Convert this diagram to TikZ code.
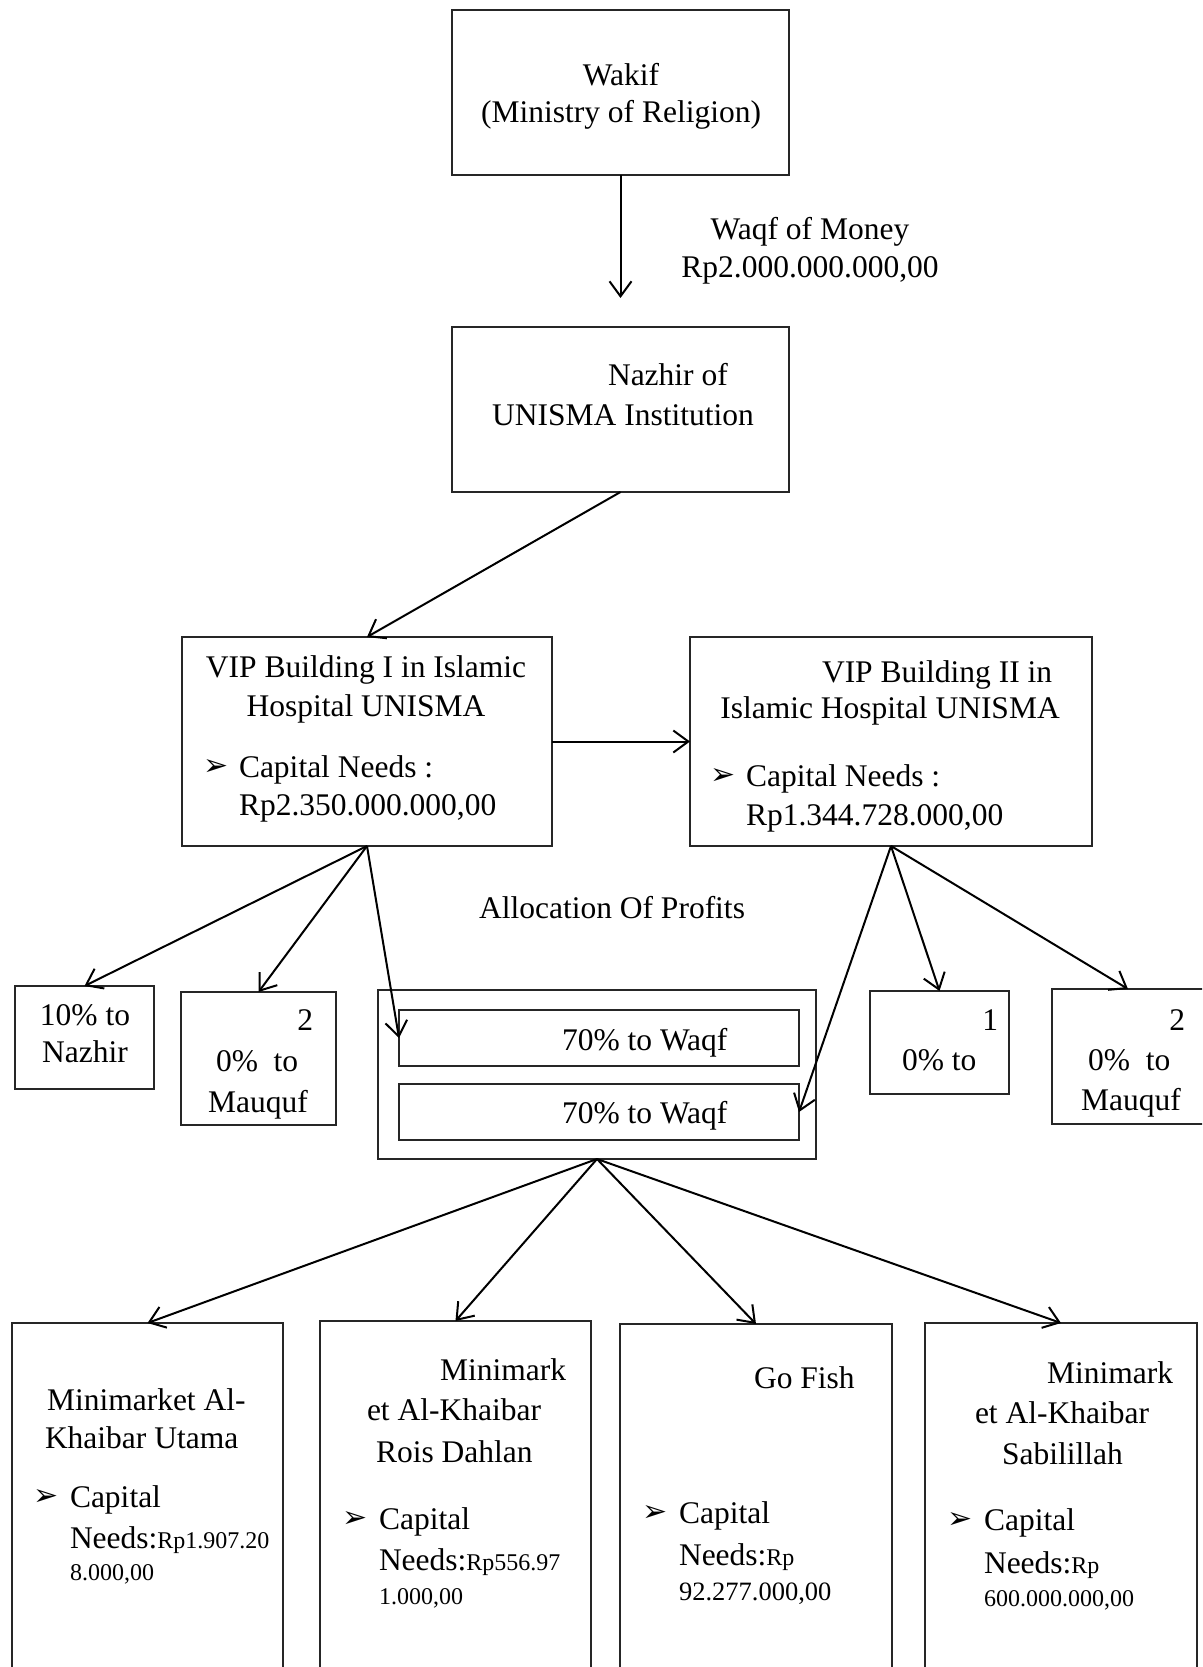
\documentclass[tikz,border=0pt]{standalone}
\usepackage{fontspec}
\setmainfont{Liberation Serif}
\newfontfamily\bulletfont{DejaVu Sans}
\usetikzlibrary{arrows.meta}
\newcommand\mainsz{\fontsize{31.5}{37}\selectfont}
\newcommand\smsz{\fontsize{24}{28}\selectfont}
\newcommand\gfsz{\fontsize{26.5}{30}\selectfont}
\newcommand\bulsz{\bulletfont\fontsize{30}{30}\selectfont}
\tikzset{
  box/.style={draw=black!85, line width=1.3pt, inner sep=0pt, outer sep=0pt},
  arr/.style={draw=black, line width=2pt, -{Straight Barb[length=15pt,width=22pt]}},
  tx/.style={inner sep=0pt, outer sep=0pt, font=\mainsz},
  bl/.style={inner sep=0pt, outer sep=0pt, font=\bulsz},
}
\begin{document}
\begin{tikzpicture}[x=1pt,y=-1pt]
\useasboundingbox (0,0) rectangle (1202,1667);
\clip (0,0) rectangle (1202,1667);

% boxes
\node[box, minimum width=337pt, minimum height=165pt] (wakif) at (620.5,92.5) {};
\node[box, minimum width=337pt, minimum height=165pt] (nazhir) at (620.5,409.5) {};
\node[box, minimum width=370pt, minimum height=209pt] (vip1) at (367,741.5) {};
\node[box, minimum width=402pt, minimum height=209pt] (vip2) at (891,741.5) {};
\node[box, minimum width=139pt, minimum height=103pt] (l10) at (84.5,1037.5) {};
\node[box, minimum width=155pt, minimum height=133pt] (l20) at (258.5,1058.5) {};
\node[box, minimum width=438pt, minimum height=169pt] (outer) at (597,1074.5) {};
\node[box, minimum width=400pt, minimum height=56pt] (in1) at (599,1038) {};
\node[box, minimum width=400pt, minimum height=56pt] (in2) at (599,1112) {};
\node[box, minimum width=139pt, minimum height=103pt] (r10) at (939.5,1042.5) {};
\node[box, minimum width=152pt, minimum height=135pt] (r20) at (1128,1056.5) {};
\node[box, minimum width=271pt, minimum height=367pt] (b1) at (147.5,1506.5) {};
\node[box, minimum width=271pt, minimum height=369pt] (b2) at (455.5,1505.5) {};
\node[box, minimum width=272pt, minimum height=366pt] (b3) at (756,1507) {};
\node[box, minimum width=272pt, minimum height=367pt] (b4) at (1061,1506.5) {};

% texts
\node[tx, anchor=base] (wakA) at (621,86) {Wakif};
\node[tx, anchor=base] (wakB) at (621,123) {(Ministry of Religion)};
\node[tx, anchor=base] (money1) at (810,239) {Waqf of Money};
\node[tx, anchor=base] (money2) at (810,277) {Rp2.000.000.000,00};
\node[tx, anchor=base west] (nazA) at (608,385) {Nazhir of};
\node[tx, anchor=base] (nazB) at (623,425) {UNISMA Institution};

\node[tx, anchor=base] (v1a) at (366,677) {VIP Building I in Islamic};
\node[tx, anchor=base] (v1b) at (366,716) {Hospital UNISMA};
\node[bl, anchor=base west] (v1bul) at (203,775) {➢};
\node[tx, anchor=base west] (v1c) at (239,777) {Capital Needs :};
\node[tx, anchor=base west] (v1d) at (239,815) {Rp2.350.000.000,00};

\node[tx, anchor=base west] (v2a) at (822,682) {VIP Building II in};
\node[tx, anchor=base] (v2b) at (890,718) {Islamic Hospital UNISMA};
\node[bl, anchor=base west] (v2bul) at (710,784) {➢};
\node[tx, anchor=base west] (v2c) at (746,786) {Capital Needs :};
\node[tx, anchor=base west] (v2d) at (746,825) {Rp1.344.728.000,00};

\node[tx, anchor=base] (alloc) at (612,918) {Allocation Of Profits};

\node[tx, anchor=base] (l10a) at (85,1025) {10\% to};
\node[tx, anchor=base] (l10b) at (85,1062) {Nazhir};
\node[tx, anchor=base east] (l20a) at (313,1030) {2};
\node[tx, anchor=base west] (l20b) at (216,1071) {0\%\ \ to};
\node[tx, anchor=base] (l20c) at (258,1112) {Mauquf};

\node[tx, anchor=base west] (w1) at (562,1050) {70\% to Waqf};
\node[tx, anchor=base west] (w2) at (562,1123) {70\% to Waqf};

\node[tx, anchor=base east] (r10a) at (998,1030) {1};
\node[tx, anchor=base west] (r10b) at (902,1070) {0\% to};
\node[tx, anchor=base east] (r20a) at (1185,1030) {2};
\node[tx, anchor=base west] (r20b) at (1088,1070) {0\%\ \ to};
\node[tx, anchor=base] (r20c) at (1131,1110) {Mauquf};

\node[tx, anchor=base west] (b1a) at (47,1410) {Minimarket Al-};
\node[tx, anchor=base west] (b1b) at (45,1448) {Khaibar Utama};
\node[bl, anchor=base west] (b1bul) at (33,1505) {➢};
\node[tx, anchor=base west] (b1c) at (70,1507) {Capital};
\node[tx, anchor=base west] (b1d) at (70,1548) {Needs:{\smsz Rp1.907.20}};
\node[tx, anchor=base west] (b1e) at (70,1580) {\smsz 8.000,00};

\node[tx, anchor=base west] (b2a) at (440,1380) {Minimark};
\node[tx, anchor=base west] (b2b) at (367,1420) {et Al-Khaibar};
\node[tx, anchor=base west] (b2c) at (376,1462) {Rois Dahlan};
\node[bl, anchor=base west] (b2bul) at (342,1527) {➢};
\node[tx, anchor=base west] (b2d) at (379,1529) {Capital};
\node[tx, anchor=base west] (b2e) at (379,1570) {Needs:{\smsz Rp556.97}};
\node[tx, anchor=base west] (b2f) at (379,1604) {\smsz 1.000,00};

\node[tx, anchor=base west] (b3a) at (754,1388) {Go Fish};
\node[bl, anchor=base west] (b3bul) at (642,1521) {➢};
\node[tx, anchor=base west] (b3b) at (679,1523) {Capital};
\node[tx, anchor=base west] (b3c) at (679,1565) {Needs:{\smsz Rp}};
\node[tx, anchor=base west] (b3d) at (679,1600) {\gfsz 92.277.000,00};

\node[tx, anchor=base west] (b4a) at (1047,1383) {Minimark};
\node[tx, anchor=base west] (b4b) at (975,1423) {et Al-Khaibar};
\node[tx, anchor=base west] (b4c) at (1002,1464) {Sabilillah};
\node[bl, anchor=base west] (b4bul) at (947,1528) {➢};
\node[tx, anchor=base west] (b4d) at (984,1530) {Capital};
\node[tx, anchor=base west] (b4e) at (984,1573) {Needs:{\smsz Rp}};
\node[tx, anchor=base west] (b4f) at (984,1606) {\smsz 600.000.000,00};

% connectors
\draw[arr, shorten >=29pt] (wakif.south) -- (nazhir.north);
\draw[arr] (nazhir.south) -- (vip1.north);
\draw[arr] (vip1.east) -- (vip2.west);
\draw[arr] (vip1.south) -- (l10.north);
\draw[arr] (vip1.south) -- (l20.north);
\draw[arr] (vip1.south) -- (in1.west);
\draw[arr] (vip2.south) -- (in2.east);
\draw[arr] (vip2.south) -- (r10.north);
\draw[arr] (vip2.south) -- (r20.north);
\draw[arr] (outer.south) -- (b1.north);
\draw[arr] (outer.south) -- (b2.north);
\draw[arr] (outer.south) -- (b3.north);
\draw[arr] (outer.south) -- (b4.north);
\end{tikzpicture}
\end{document}
